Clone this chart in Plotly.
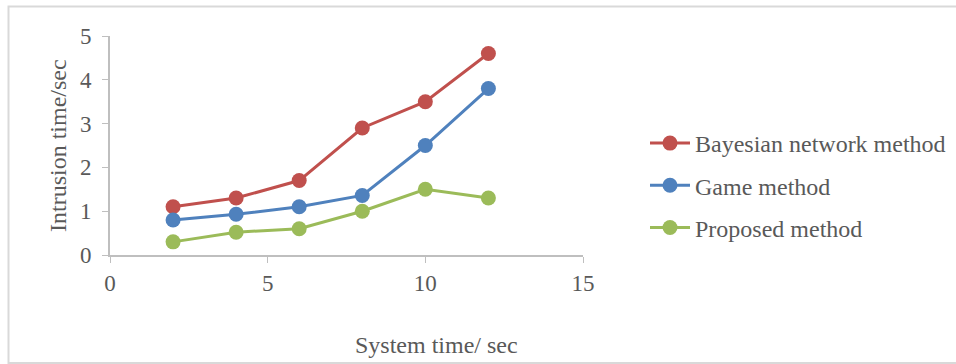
import plotly.graph_objects as go

# System time (sec) at which intrusion time was measured
system_time = [2, 4, 6, 8, 10, 12]

# Intrusion time (sec) per method
bayesian = [1.1, 1.3, 1.7, 2.9, 3.5, 4.6]
game = [0.8, 0.93, 1.1, 1.36, 2.5, 3.8]
proposed = [0.3, 0.52, 0.6, 1.0, 1.5, 1.3]

series_names = ["Bayesian network method", "Game method", "Proposed method"]
series_colors = ["#c0504d", "#4f81bd", "#9bbb59"]

x_ticks = [0, 5, 10, 15]
y_ticks = [0, 1, 2, 3, 4, 5]

FONT = "Liberation Serif, Times New Roman, serif"
TEXT = "#595959"
AXIS = "#bfbfbf"

fig = go.Figure()
for name, vals, color in zip(series_names, [bayesian, game, proposed], series_colors):
    fig.add_trace(go.Scatter(
        x=system_time, y=vals, name=name, legendgroup=name,
        mode="lines+markers",
        line=dict(color=color, width=3),
        marker=dict(color=color, size=15),
    ))

W, H = 956, 364
L, R, T, B = 110, 373, 36, 109
pw, ph = W - L - R, H - T - B

def px_x(p):
    return (p - L) / pw

def px_y(p):
    return (H - B - p) / ph

# light outer frame around the chart
fig.add_shape(type="rect", xref="paper", yref="paper",
              x0=px_x(8.5), x1=px_x(960), y0=px_y(363), y1=px_y(6.5),
              line=dict(color="#d9d9d9", width=2), layer="below")

# axis titles
fig.add_annotation(text="System time/ sec", xref="paper", yref="paper",
                   x=px_x(436), y=px_y(345), showarrow=False,
                   xanchor="center", yanchor="middle",
                   font=dict(family=FONT, size=24, color=TEXT))
fig.add_annotation(text="Intrusion time/sec", xref="paper", yref="paper",
                   x=px_x(58), y=px_y(146), showarrow=False, textangle=-90,
                   xanchor="center", yanchor="middle",
                   font=dict(family=FONT, size=24, color=TEXT))

fig.update_layout(
    width=W, height=H,
    margin=dict(l=L, r=R, t=T, b=B, autoexpand=False),
    paper_bgcolor="white", plot_bgcolor="white",
    font=dict(family=FONT, size=23, color=TEXT),
    showlegend=True,
    legend=dict(x=px_x(645), y=px_y(121), xanchor="left", yanchor="top",
                font=dict(family=FONT, size=24, color=TEXT),
                tracegroupgap=8, itemwidth=40, bgcolor="rgba(0,0,0,0)"),
    xaxis=dict(range=[0, 15], tickvals=x_ticks, ticks="outside", ticklen=6,
               tickcolor=AXIS, showline=True, linecolor=AXIS, linewidth=2,
               showgrid=False, zeroline=False, automargin=False,
               tickfont=dict(family=FONT, size=23, color=TEXT)),
    yaxis=dict(range=[0, 5], tickvals=y_ticks, ticks="outside", ticklen=6,
               tickcolor=AXIS, showline=True, linecolor=AXIS, linewidth=2,
               showgrid=False, zeroline=False, automargin=False,
               ticklabelstandoff=6,
               tickfont=dict(family=FONT, size=23, color=TEXT)),
)

fig.write_html("out.html")
